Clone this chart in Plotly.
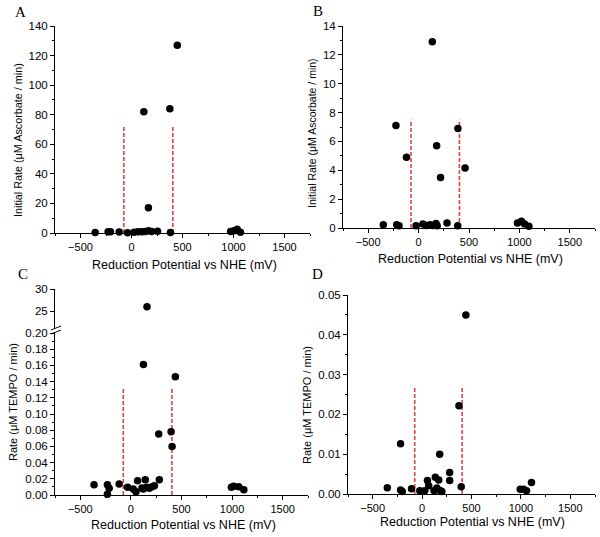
import plotly.graph_objects as go

W, H = 600, 537

# ---------------- data ----------------
A_x = [-356, -229, -207, -121, -38, 26, 64, 102, 121, 134, 166, 166, 198, 255, 376, 382, 449, 972, 1004, 1036, 1068]
A_y = [0.3, 0.8, 0.8, 0.6, 0.2, 0.5, 0.8, 0.8, 82, 1.0, 17, 1.5, 1.0, 1.2, 84, 0.4, 127, 1.0, 1.5, 2.5, 0.5]

B_x = [-350, -225, -217, -194, -120, -25, 43, 75, 114, 136, 140, 172, 179, 184, 218, 282, 388, 390, 461, 981, 1020, 1052, 1094]
B_y = [0.23, 7.1, 0.23, 0.16, 4.9, 0.16, 0.28, 0.18, 0.23, 12.9, 0.18, 0.32, 5.7, 0.16, 3.5, 0.35, 0.16, 6.9, 4.15, 0.35, 0.46, 0.28, 0.12]

C_x = [-364, -232, -215, -232, -116, -33, 23, 50, 66, 109, 124, 142, 122, 156, 182, 209, 232, 275, 281, 397, 407, 439, 993, 1016, 1066, 1116]
C_y = [0.0128, 0.0128, 0.0082, 0.001, 0.0136, 0.0095, 0.0074, 0.004, 0.0177, 0.0086, 0.161, 0.0189, 0.0074, 0.0095, 0.0082, 0.0103, 0.0115, 0.0753, 0.0189, 0.078, 0.060, 0.146, 0.0095, 0.0107, 0.0103, 0.0066]
C_high_x = [159]
C_high_y = [26]

D_x = [-352, -218, -218, -201, -107, -23, 27, 54, 67, 121, 134, 150, 168, 178, 185, 200, 279, 279, 373, 396, 443, 993, 1027, 1057, 1107]
D_y = [0.0016, 0.0126, 0.001, 0.0006, 0.0013, 0.0008, 0.0008, 0.0034, 0.0021, 0.0008, 0.0042, 0.0015, 0.0035, 0.010, 0.0008, 0.0006, 0.0054, 0.0034, 0.0222, 0.0018, 0.045, 0.0012, 0.0012, 0.0008, 0.0029]

boundary_x = [-75, 405]
boundary_h = {"A": 72, "B": 7.5, "C": 0.133, "D": 0.0272}

x_title = "Reduction Potential vs NHE (mV)"
yA_title = "Initial Rate (\u03bcM Ascorbate / min)"
yC_title = "Rate (\u03bcM TEMPO / min)"
panel_labels = ["A", "B", "C", "D"]

# ---------------- helpers ----------------
def fx(px):
    return px / W

def fy(px):
    return 1 - px / H

FONT = "Liberation Sans, Arial, sans-serif"
RED = "#d9463f"

fig = go.Figure()

def pts(x, y, xa, ya):
    fig.add_trace(go.Scatter(x=x, y=y, xaxis=xa, yaxis=ya, mode="markers",
                             marker=dict(color="black", size=7.5, line=dict(width=0)),
                             cliponaxis=False, showlegend=False, hoverinfo="x+y"))

def bounds(h, xa, ya):
    for bx in boundary_x:
        fig.add_trace(go.Scatter(x=[bx, bx], y=[0, h], xaxis=xa, yaxis=ya, mode="lines",
                                 line=dict(color=RED, width=1.6, dash="4px,2px"),
                                 showlegend=False, hoverinfo="skip"))

bounds(boundary_h["A"], "x", "y")
pts(A_x, A_y, "x", "y")
bounds(boundary_h["B"], "x2", "y2")
pts(B_x, B_y, "x2", "y2")
bounds(boundary_h["C"], "x3", "y3")
pts(C_x, C_y, "x3", "y3")
pts(C_high_x, C_high_y, "x3", "y4")
bounds(boundary_h["D"], "x4", "y5")
pts(D_x, D_y, "x4", "y5")

xtickfont = dict(family=FONT, size=11, color="black")
ytickfont = dict(family=FONT, size=11.5, color="black")

def xax(dom, anchor):
    return dict(domain=dom, anchor=anchor, range=[-750, 1750], dtick=500, tick0=0,
                showline=True, linecolor="black", linewidth=1, ticks="outside",
                ticklen=4, tickcolor="black", showgrid=False, zeroline=False,
                minor=dict(dtick=250, ticks="outside", ticklen=2, tickcolor="black"),
                tickfont=xtickfont, automargin=False)

def yax(dom, anchor, rng, dtick, minor, fmt=None, tickvals=None):
    d = dict(domain=dom, anchor=anchor, range=rng, showline=True, linecolor="black",
             linewidth=1, ticks="outside", ticklen=4, tickcolor="black",
             showgrid=False, zeroline=False, tickfont=ytickfont, automargin=False)
    if tickvals is not None:
        d["tickvals"] = tickvals
    else:
        d["dtick"] = dtick
        d["tick0"] = 0
    if minor:
        d["minor"] = dict(dtick=minor, ticks="outside", ticklen=2, tickcolor="black")
    if fmt:
        d["tickformat"] = fmt
    return d

fig.update_layout(
    width=W, height=H, margin=dict(l=0, r=0, t=0, b=0),
    paper_bgcolor="white", plot_bgcolor="white",
    xaxis=xax([fx(55), fx(310)], "y"),
    yaxis=yax([fy(233), fy(26)], "x", [0, 140], 20, 10),
    xaxis2=xax([fx(343), fx(595)], "y2"),
    yaxis2=yax([fy(228), fy(26)], "x2", [0, 14], 2, 1),
    xaxis3=xax([fx(55), fx(308)], "y3"),
    yaxis3=yax([fy(495), fy(333)], "x3", [0, 0.2], 0.02, 0.01, ".2f"),
    yaxis4=yax([fy(329), fy(289)], "x3", [21, 30], None, None, None, [25, 30]),
    xaxis4=xax([fx(348), fx(595)], "y5"),
    yaxis5=yax([fy(494), fy(295)], "x4", [0, 0.05], 0.01, 0.005, ".2f"),
)

def note(text, px, py, size, family=FONT, angle=0):
    fig.add_annotation(text=text, xref="paper", yref="paper", x=fx(px), y=fy(py),
                       xanchor="center", yanchor="middle", showarrow=False,
                       textangle=angle, font=dict(family=family, size=size, color="black"))

# axis titles (placed to match the reference)
x_title_pos = [(184, 265), (470, 259), (183, 525), (472, 522)]
for px, py in x_title_pos:
    note(x_title, px, py, 12.5)

y_title_specs = [(yA_title, 18, 140, 10.8), (yA_title, 312, 133, 10.5),
                 (yC_title, 13, 402, 11), (yC_title, 307, 405, 11)]
for txt, px, py, fs in y_title_specs:
    note(txt, px, py, fs, angle=-90)

# axis-break marks on panel C
for off in (0, 4):
    fig.add_shape(type="line", xref="paper", yref="paper",
                  x0=fx(51), y0=fy(334 - off), x1=fx(61), y1=fy(330 - off),
                  line=dict(color="black", width=1))

# panel letters
letter_pos = [(20, 12), (318, 11), (23, 274), (317, 274)]
for lab, (px, py) in zip(panel_labels, letter_pos):
    note(lab, px, py, 15, family="Liberation Serif, Times New Roman, serif")

fig.write_html("out.html", config={"displayModeBar": False},
               post_script="document.body.style.margin='0';")
